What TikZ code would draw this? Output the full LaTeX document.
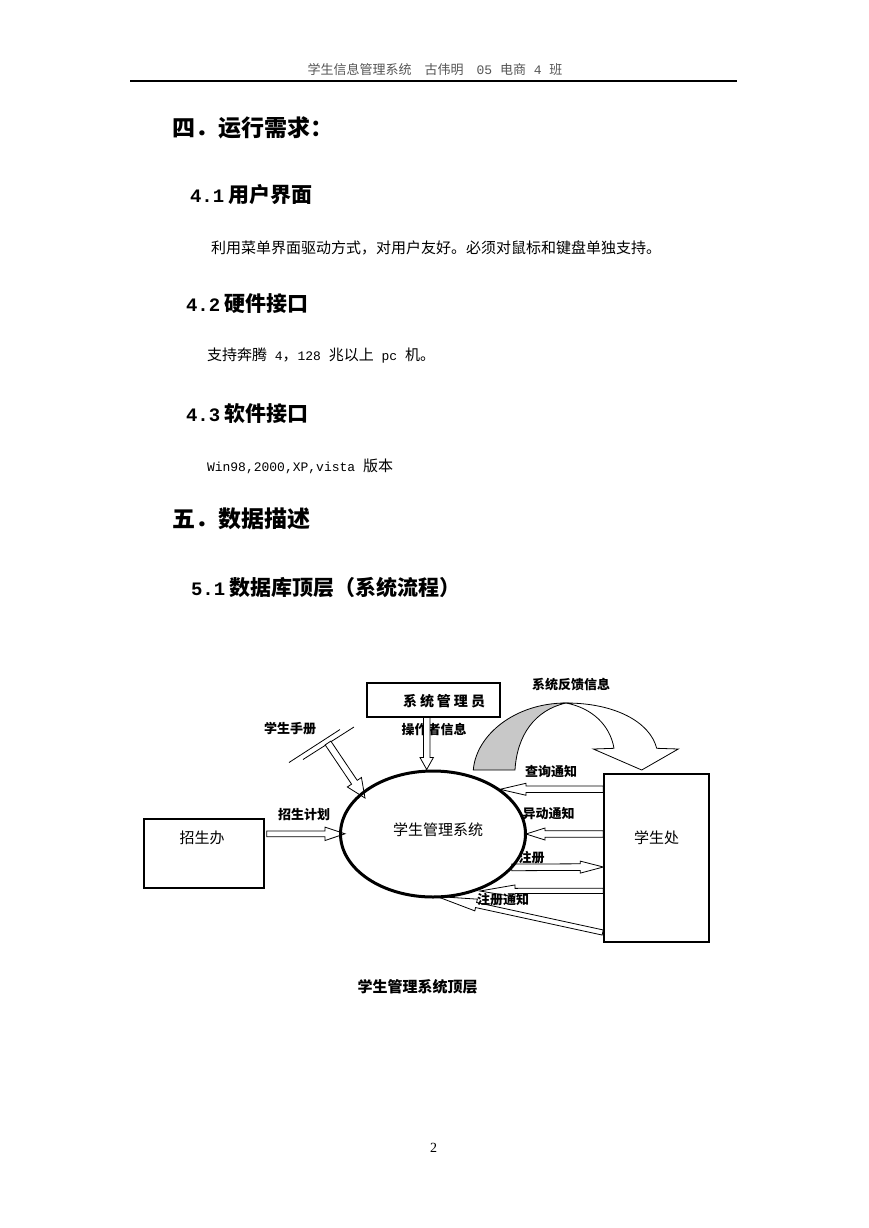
\documentclass[tikz,border=0pt]{standalone}
\usepackage{fontspec}
\setmainfont{Liberation Serif}
\newfontfamily\cjk{Noto Sans CJK SC}
\newfontfamily\mono{Liberation Mono}
\usetikzlibrary{positioning, calc, shapes.geometric}

\definecolor{arcgray}{RGB}{200,200,200}
\definecolor{headgray}{RGB}{85,85,85}

% hollow block arrow: from, to, shaft half width, head half width, head length
\newcommand{\hollowarrow}[5]{%
  \coordinate (hb) at ($(#2)!#5!(#1)$);
  \draw[hollow] ($(#1)!#3!90:(#2)$) -- ($(hb)!#3!-90:(#1)$) -- ($(hb)!#4!-90:(#1)$) -- (#2)
    -- ($(hb)!#4!90:(#1)$) -- ($(hb)!#3!90:(#1)$) -- ($(#1)!#3!-90:(#2)$) -- cycle;
}
\newcommand{\hnum}[1]{{\mono\bfseries\fontsize{19}{19}\selectfont #1}}

\begin{document}
\begin{tikzpicture}[
    x=1pt, y=-1pt,
    every node/.style={inner sep=0pt, outer sep=0pt},
    box/.style={draw, line width=2pt},
    hollow/.style={draw, fill=white, line width=0.8pt, line join=miter},
    lbl/.style={font=\cjk\bfseries\fontsize{13}{13}\selectfont},
    unit/.style={font=\cjk\fontsize{15}{15}\selectfont},
    body/.style={anchor=west, font=\cjk\fontsize{15}{15}\selectfont},
    hone/.style={anchor=west, font=\cjk\bfseries\fontsize{23}{23}\selectfont},
    htwo/.style={anchor=west, font=\cjk\bfseries\fontsize{21}{21}\selectfont}
]

\fill[white] (0,0) rectangle (869,1228);
\useasboundingbox (0,0) rectangle (869,1228);

% Page header
\node[font=\cjk\fontsize{13}{13}\selectfont, text=headgray] (hdr) at (435,70)
    {学生信息管理系统　古伟明　{\mono 05 }电商{\mono\ 4 }班};
\coordinate (rule-l) at (130,81);
\coordinate (rule-r) at (737,81);
\draw[line width=1.4pt] (rule-l) -- (rule-r);

% Text
\node[hone] (h4) at (172,128) {四．运行需求：};
\node[htwo] (h41) at (190,195) {\hnum{4.1}\hspace{4pt}用户界面};
\node[body] (p41) at (211,248) {利用菜单界面驱动方式，对用户友好。必须对鼠标和键盘单独支持。};
\node[htwo] (h42) at (186,304) {\hnum{4.2}\hspace{4pt}硬件接口};
\node[body] (p42) at (207,356) {支持奔腾{\mono\fontsize{13}{13}\selectfont\ 4}，{\mono\fontsize{13}{13}\selectfont 128 }兆以上{\mono\fontsize{13}{13}\selectfont\ pc }机。};
\node[htwo] (h43) at (186,414) {\hnum{4.3}\hspace{4pt}软件接口};
\node[body] (p43) at (207,466) {{\mono\fontsize{13}{13}\selectfont Win98,2000,XP,vista }版本};
\node[hone] (h5) at (172,519) {五．数据描述};
\node[htwo] (h51) at (191,588) {\hnum{5.1}\hspace{4pt}数据库顶层（系统流程）};

% Feedback arc
\fill[arcgray] (473.3,770) .. controls (476,735) and (515,703) .. (566,703)
    .. controls (535,710) and (517,735) .. (515,770) -- cycle;
\draw[line width=0.8pt] (473.3,770) .. controls (476,735) and (515,703) .. (566,703)
    .. controls (535,710) and (517,735) .. (515,770) -- cycle;
\draw[hollow] (566,703) .. controls (615,703) and (650,722) .. (656.7,748.3)
    -- (678.3,749) -- (641.7,770) -- (593.3,749) -- (614,748.3)
    .. controls (610,725) and (592,708) .. (566,703) -- cycle;

% Labels
\node[lbl] (l-sc) at (290,729) {学生手册};
\node[lbl] (l-cz) at (434,729) {操作者信息};
\node[lbl] (l-fk) at (571,685) {系统反馈信息};
\node[lbl] (l-cx) at (551,771.5) {查询通知};
\node[lbl] (l-yd) at (548.5,813.3) {异动通知};
\node[lbl] (l-zj) at (304,815) {招生计划};

% Data store
\coordinate (ds1a) at (289,762.5);
\coordinate (ds1b) at (340,729.5);
\coordinate (ds2a) at (303,759.5);
\coordinate (ds2b) at (354,727);
\draw[line width=0.8pt] (ds1a) -- (ds1b);
\draw[line width=0.8pt] (ds2a) -- (ds2b);

% Arrow ends
\coordinate (zj-s) at (266.7,833.8);
\coordinate (zj-e) at (345,833.8);
\coordinate (sc-s) at (328,743);
\coordinate (sc-e) at (365,798);
\coordinate (cz-s) at (426.7,716.7);
\coordinate (cz-e) at (426.7,769.5);
\coordinate (cx-s) at (603.3,789.2);
\coordinate (cx-e) at (500,789.3);
\coordinate (yd-s) at (603.3,834);
\coordinate (yd-e) at (526,834);
\coordinate (zc-s) at (511.7,867.4);
\coordinate (zc-e) at (603.3,867);
\coordinate (fh-s) at (603.3,890.8);
\coordinate (fh-e) at (480,891);
\coordinate (zt-s) at (602.7,932.5);
\coordinate (zt-e) at (437,896.5);

% Arrows
\hollowarrow{zj-s}{zj-e}{2.9pt}{6.7pt}{20pt}
\hollowarrow{sc-s}{sc-e}{3.4pt}{8.5pt}{19pt}
\hollowarrow{cz-s}{cz-e}{3.3pt}{6.7pt}{12pt}
\hollowarrow{cx-s}{cx-e}{3.2pt}{6pt}{26pt}
\hollowarrow{yd-s}{yd-e}{3.3pt}{6pt}{19pt}
\hollowarrow{zc-s}{zc-e}{3.3pt}{6pt}{23pt}
\hollowarrow{fh-s}{fh-e}{2.6pt}{6pt}{35pt}
\hollowarrow{zt-s}{zt-e}{2.6pt}{6pt}{40pt}

% Nodes
\node[box, minimum width=120, minimum height=69] (zsb) at (204,853) {};
\node[unit] (zsb-t) at (202,838) {招生办};
\node[box, minimum width=133, minimum height=34] (gly) at (433,699.5) {};
\node[font=\cjk\bfseries\fontsize{14}{14}\selectfont] (gly-t) at (444,701)
    {系\hspace{3pt}统\hspace{3pt}管\hspace{3pt}理\hspace{3pt}员};
\node[box, minimum width=105, minimum height=168] (xsc) at (656,857.5) {};
\node[unit] (xsc-t) at (656.5,837.5) {学生处};
\node[draw, ellipse, line width=3pt, minimum width=185, minimum height=126] (sys) at (433,834) {};
\node[unit] (sys-t) at (438,830) {学生管理系统};

\node[lbl] (l-zc) at (531.5,857.7) {注册};
\node[lbl] (l-zt) at (503,900) {注册通知};

% Caption and page number
\node[font=\cjk\bfseries\fontsize{15}{15}\selectfont] (cap) at (417.5,987) {学生管理系统顶层};
\node[font=\fontsize{14}{14}\selectfont] (pg) at (433.5,1148) {2};

\end{tikzpicture}
\end{document}
